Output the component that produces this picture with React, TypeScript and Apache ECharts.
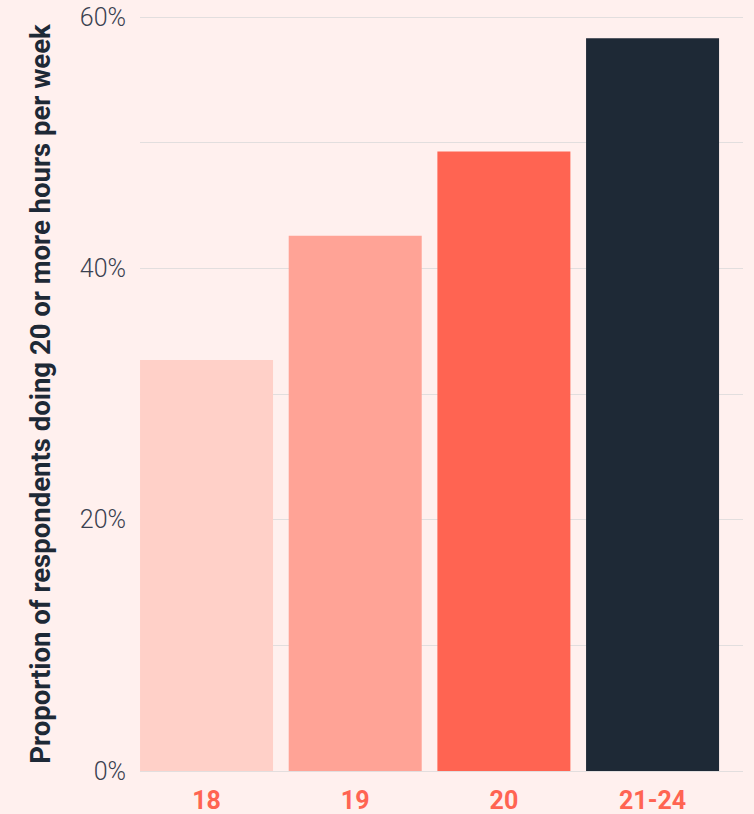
import React, { useEffect, useRef } from "react";
import * as echarts from "echarts";

const categories = ["18", "19", "20", "21-24"];
const values = [32.7, 42.6, 49.3, 58.3];
const barColors = ["#FFD0C8", "#FFA396", "#FF6452", "#1E2936"];
const yTicks = [0, 10, 20, 30, 40, 50, 60];
const yTitle = "Proportion of respondents doing 20 or more hours per week";

export default function App() {
  const ref = useRef<HTMLDivElement>(null);
  useEffect(() => {
    if (!ref.current) return;
    const chart = echarts.init(ref.current, null, { renderer: "svg" });
    chart.setOption({
      animation: false,
      backgroundColor: "#FFF0EE",
      textStyle: { fontFamily: "Roboto" },
      grid: [
        { left: 140, right: 11, top: 17, bottom: 43 },
        { left: 132.2, width: 594.7, top: 17, bottom: 43 },
      ],
      xAxis: [
        { type: "value", gridIndex: 0, show: false, min: 0, max: 1 },
        {
          type: "category",
          gridIndex: 1,
          data: categories,
          axisLine: { show: false },
          axisTick: { show: false },
          axisLabel: {
            color: "#FF6452",
            fontWeight: "bold",
            fontSize: 25,
            fontFamily: "Roboto",
            margin: 17,
          },
        },
      ],
      yAxis: [
        {
          type: "value",
          gridIndex: 0,
          min: yTicks[0],
          max: yTicks[yTicks.length - 1],
          interval: 10,
          axisLine: { show: false },
          axisTick: { show: false },
          splitLine: { show: true, lineStyle: { color: "#E2DEDE", width: 1 } },
          axisLabel: {
            color: "#3A4150",
            fontSize: 25,
            fontWeight: 300,
            fontFamily: "Roboto",
            margin: 14,
            formatter: (v: number) => (v % 20 === 0 ? v + "%" : ""),
          },
          name: yTitle,
          nameLocation: "middle",
          nameGap: 86,
          nameTextStyle: {
            color: "#1E2936",
            fontWeight: "bold",
            fontSize: 27.5,
            fontFamily: "Roboto",
          },
        },
        {
          type: "value",
          gridIndex: 1,
          min: yTicks[0],
          max: yTicks[yTicks.length - 1],
          show: false,
          splitLine: { show: false },
        },
      ],
      series: [
        {
          type: "bar",
          xAxisIndex: 1,
          yAxisIndex: 1,
          barWidth: 133,
          data: values.map((v, i) => ({ value: v, itemStyle: { color: barColors[i] } })),
        },
      ],
    });
    return () => chart.dispose();
  }, []);
  return (
    <div
      ref={ref}
      style={{ position: "fixed", left: 0, top: 0, width: 754, height: 814 }}
    />
  );
}
